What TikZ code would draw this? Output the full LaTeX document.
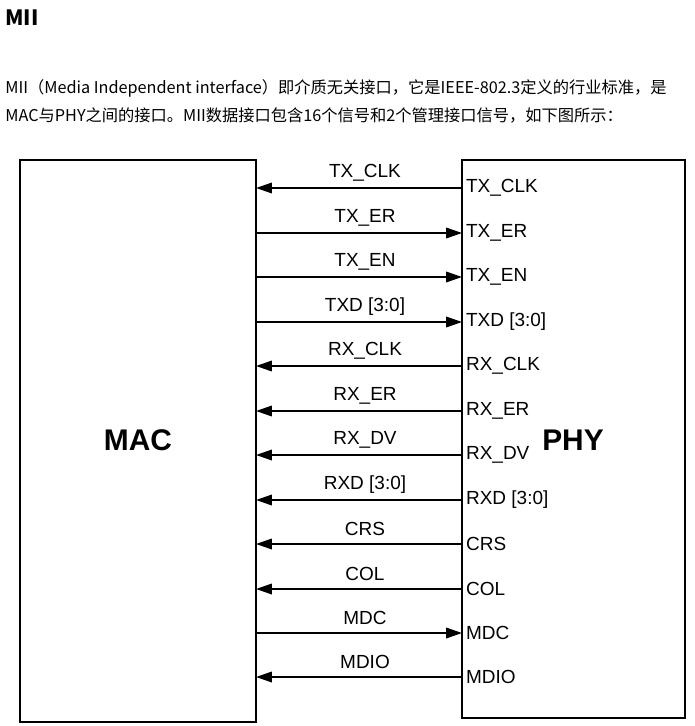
\documentclass[tikz,border=0pt]{standalone}
\usepackage{fontspec}
\setmainfont{Liberation Sans}
\newfontfamily\cjk{Noto Sans CJK SC}
\usetikzlibrary{arrows.meta,positioning}
\begin{document}
\begin{tikzpicture}[x=0.02cm,y=-0.02cm,
    sig/.style={line width=0.9pt},
    tip/.style={-{Triangle[length=9pt,width=6pt]}},
    lbl/.style={font=\fontsize{10.8}{12}\selectfont, inner sep=1pt},
    pin/.style={font=\fontsize{10.8}{12}\selectfont, anchor=west, inner sep=1pt}]
    \useasboundingbox (0,0) rectangle (695,726);
    % heading and text
    \node[anchor=west, inner sep=0pt, font=\cjk\fontsize{12}{13}\selectfont\bfseries] (title) at (5,18) {MII};
    \node[anchor=west, inner sep=0pt, font=\cjk\fontsize{9.25}{11}\selectfont] (line1) at (5,88) {MII（Media Independent interface）即介质无关接口，它是IEEE-802.3定义的行业标准，是};
    \node[anchor=west, inner sep=0pt, font=\cjk\fontsize{9.25}{11}\selectfont] (line2) at (5,116) {MAC与PHY之间的接口。MII数据接口包含16个信号和2个管理接口信号，如下图所示：};
    % blocks
    \draw[sig] (20,160) rectangle (256,722);
    \draw[sig] (462,160) rectangle (685,718);
    \node[font=\fontsize{17}{20}\selectfont\bfseries] (mac) at (138,440) {MAC};
    \node[font=\fontsize{17}{20}\selectfont\bfseries] (phy) at (573,440) {PHY};
    % signals: name / y / direction
    \foreach \name/\y/\dir [count=\i] in {TX\_CLK/188/l, TX\_ER/233/r, TX\_EN/277/r, TXD [3:0]/322/r,
        RX\_CLK/366/l, RX\_ER/411/l, RX\_DV/455/l, RXD [3:0]/500/l, CRS/544/l, COL/589/l, MDC/633/r, MDIO/677/b} {
        \coordinate (m\i) at (256,\y);
        \coordinate (p\i) at (462,\y);
        \node[pin] (pin\i) at (464,\y) {\name};
        \node[lbl] (lbl\i) at (365,\y-15) {\name};
        \if\dir l
            \draw[sig,tip] (p\i) -- (m\i);
        \else\if\dir r
            \draw[sig,tip] (m\i) -- (p\i);
        \else
            \draw[sig,tip,{Triangle[length=9pt,width=6pt]}-] (m\i) -- (p\i);
        \fi\fi
    }
\end{tikzpicture}
\end{document}
